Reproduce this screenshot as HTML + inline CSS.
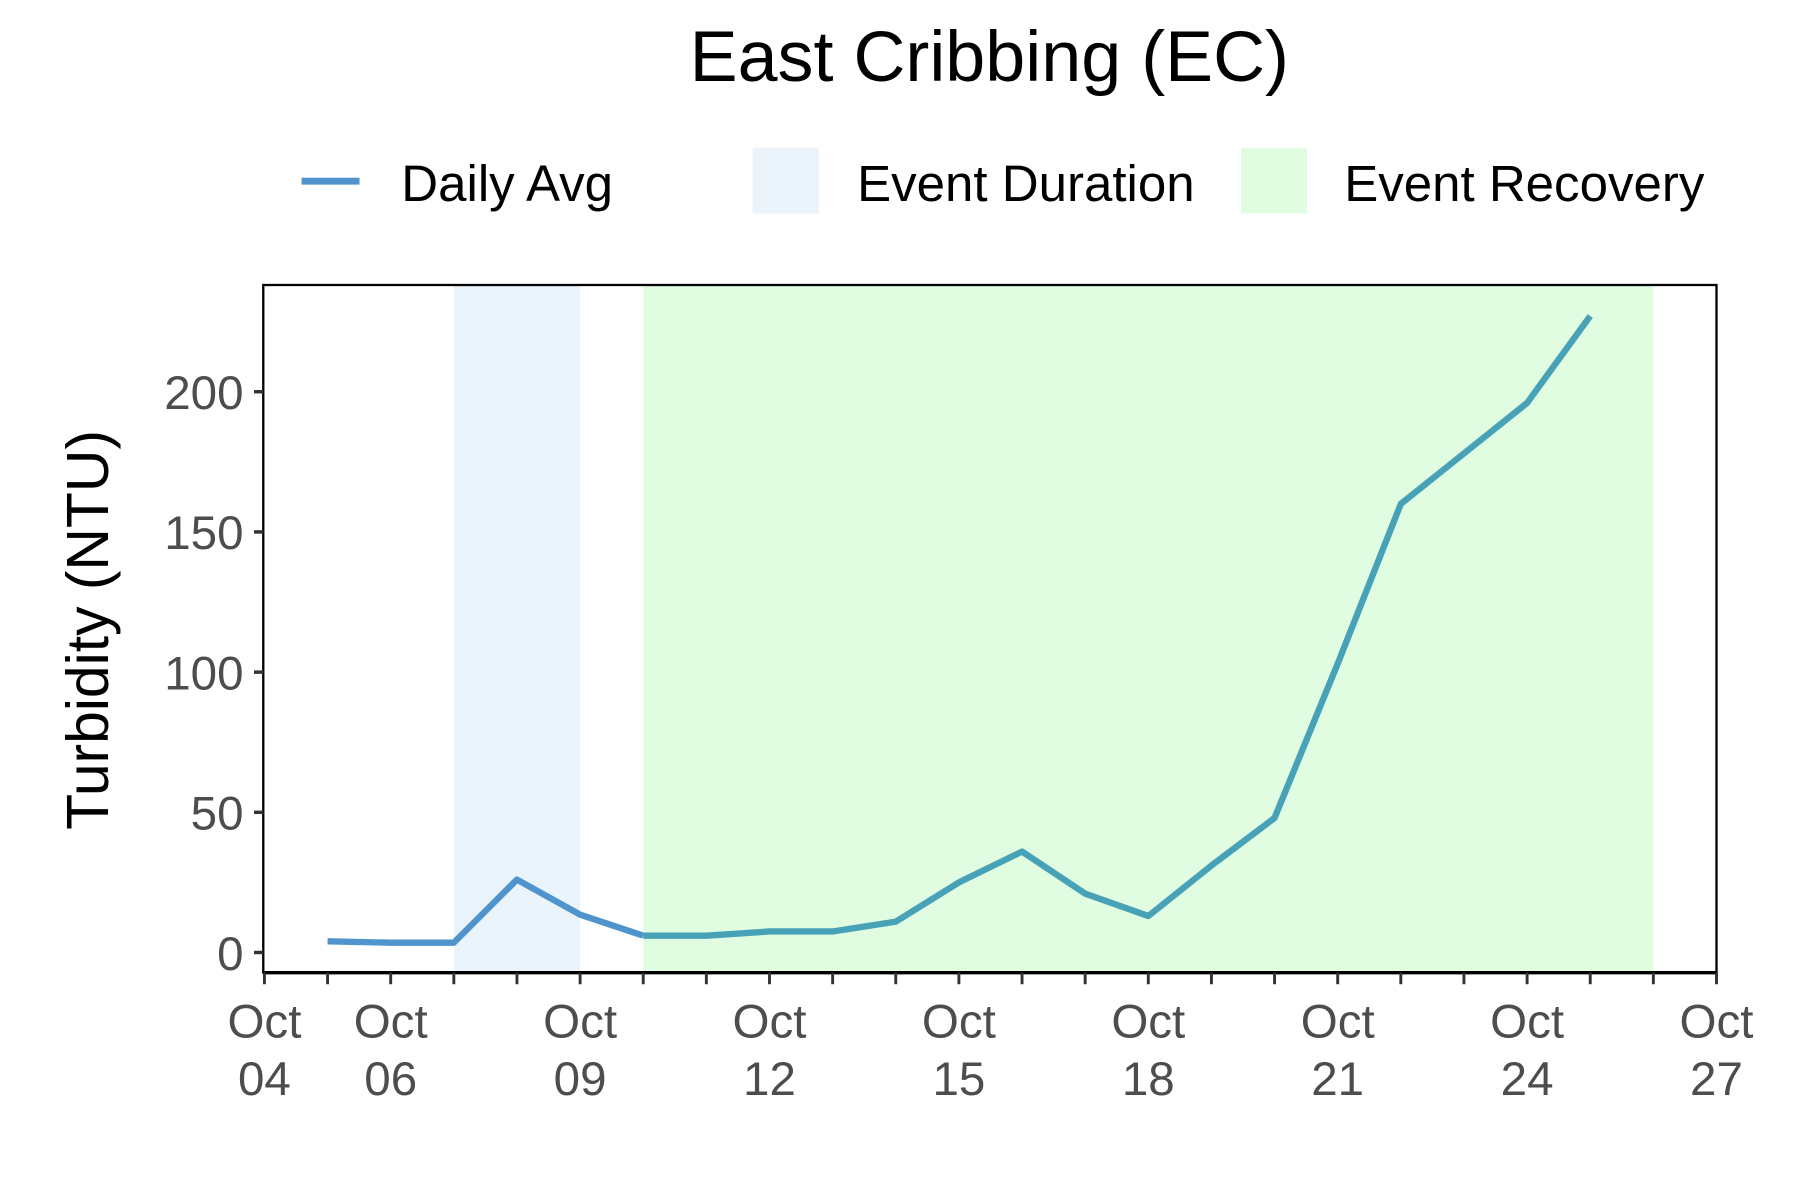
<!DOCTYPE html>
<html><head><meta charset="utf-8"><style>
html,body{margin:0;padding:0;background:#fff}
svg{display:block}
text{font-family:"Liberation Sans",sans-serif}
</style></head><body>
<svg id="chart" width="1800" height="1200" viewBox="0 0 1552 1040" preserveAspectRatio="none" xmlns="http://www.w3.org/2000/svg">
<text x="853" y="70" font-size="62" text-anchor="middle" fill="#000">East Cribbing (EC)</text>
<g>
 <line x1="260" y1="157" x2="310" y2="157" stroke="#4f94cd" stroke-width="6"/>
 <text x="346" y="174" font-size="44">Daily Avg</text>
 <rect x="649" y="128" width="57" height="57" fill="#ebf3fb"/>
 <text x="739" y="174" font-size="44">Event Duration</text>
 <rect x="1070" y="128" width="57" height="57" fill="#e1fde1"/>
 <text x="1159" y="174" font-size="44">Event Recovery</text>
</g>
<text transform="translate(93,546) rotate(-90)" font-size="51" text-anchor="middle">Turbidity (NTU)</text>
<g id="plot"></g>
</svg>
<script>
const days=[5,6,7,8,9,10,11,12,13,14,15,16,17,18,19,20,21,22,23,24,25];
const values=[4,3.5,3.5,26,13.5,6,6,7.5,7.5,11,25,36,21,13,31,48,103,160,178,196,227];
const yTicks=[0,50,100,150,200];
const xTickDays=[4,6,9,12,15,18,21,24,27];
const xTickLabels=["04","06","09","12","15","18","21","24","27"];
const durationBand=[7,9];
const recoveryBand=[10,26];
const X=d=>228+(d-4)*(1480-228)/23;
const Y=v=>825.5-v*2.43;
const TOP=247,BOT=843;
const NS="http://www.w3.org/2000/svg";
const g=document.getElementById('plot');
function mk(t,a){const e=document.createElementNS(NS,t);for(const k in a)e.setAttribute(k,a[k]);g.appendChild(e);return e;}
let e;
e=mk('rect',{x:X(durationBand[0]),y:TOP,width:X(durationBand[1])-X(durationBand[0]),height:BOT-TOP,fill:'#ebf3fb'});


e=mk('rect',{x:X(recoveryBand[0]),y:TOP,width:X(recoveryBand[1])-X(recoveryBand[0]),height:BOT-TOP,fill:'#e1fde1'});


let p1=[],p2=[];
days.forEach((d,i)=>{const pt=X(d)+','+Y(values[i]);if(d<=recoveryBand[0])p1.push(pt);if(d>=recoveryBand[0])p2.push(pt);});
e=mk('polyline',{points:p1.join(' '),fill:'none',stroke:'#4f94cd','stroke-width':5.5,'stroke-linejoin':'round'});


e=mk('polyline',{points:p2.join(' '),fill:'none',stroke:'#47a2b8','stroke-width':5.5,'stroke-linejoin':'round'});


e=mk('rect',{x:227,y:TOP,width:1253,height:BOT-TOP,fill:'none',stroke:'#000','stroke-width':2});


e=mk('line',{x1:227,y1:BOT,x2:1480,y2:BOT,stroke:'#000','stroke-width':3});


yTicks.forEach(v=>{
 e=mk('line',{x1:219,x2:227,y1:Y(v),y2:Y(v),stroke:'#333','stroke-width':3});
 
 
 e=mk('text',{x:210,y:Y(v)+15,'font-size':41,'text-anchor':'end',fill:'#4d4d4d'});
 e.textContent=v;
 
 
});
for(let d=4;d<=27;d++){
 e=mk('line',{x1:X(d),x2:X(d),y1:BOT,y2:BOT+10,stroke:'#333','stroke-width':2.5});
 
 
}
xTickDays.forEach((d,i)=>{
 e=mk('text',{x:X(d),y:899,'font-size':41,'text-anchor':'middle',fill:'#4d4d4d'});
 e.textContent='Oct';
 
 
 e=mk('text',{x:X(d),y:949,'font-size':41,'text-anchor':'middle',fill:'#4d4d4d'});
 e.textContent=xTickLabels[i];
 
 
});
</script>
</body></html>
